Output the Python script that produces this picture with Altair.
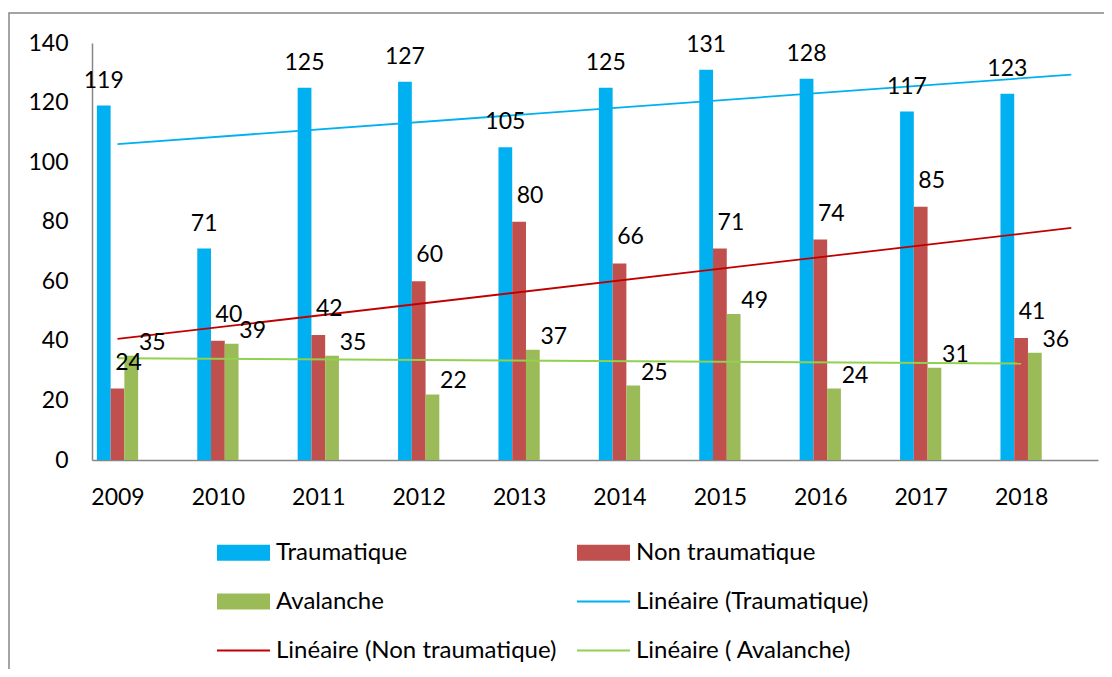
import altair as alt
import pandas as pd

years = [2009, 2010, 2011, 2012, 2013, 2014, 2015, 2016, 2017, 2018]
traumatique = [119, 71, 125, 127, 105, 125, 131, 128, 117, 123]
non_traumatique = [24, 40, 42, 60, 80, 66, 71, 74, 85, 41]
avalanche = [35, 39, 35, 22, 37, 25, 49, 24, 31, 36]

series_names = ["Traumatique", "Non traumatique", " Avalanche"]
trend_names = ["Linéaire (Traumatique)", "Linéaire (Non traumatique)", "Linéaire ( Avalanche)"]
bar_colors = ["#00B0F0", "#C0504D", "#9BBB59"]
trend_colors = ["#00B0F0", "#C00000", "#92D050"]
y_ticks = [0, 20, 40, 60, 80, 100, 120, 140]

rows = []
for i, (name, vals) in enumerate(zip(series_names, [traumatique, non_traumatique, avalanche])):
    for yr, v in zip(years, vals):
        rows.append({"year": yr, "value": v, "series": name, "idx": i})
df = pd.DataFrame(rows)

FONT = "Lato"
W = 0.137  # bar width in years

color_scale = alt.Scale(domain=series_names + trend_names, range=bar_colors + trend_colors)
legend = alt.Legend(
    title=None,
    orient="none",
    legendX=125,
    legendY=483,
    direction="horizontal",
    columns=2,
    columnPadding=20,
    rowPadding=10,
    padding=0,
    symbolSize=2809,
    symbolStrokeWidth=0,
    symbolType={"expr": "indexof(['Traumatique','Non traumatique',' Avalanche'], datum.value) >= 0 ? 'M-1,-0.3H1V0.3H-1Z' : 'M-1,-0.036H1V0.036H-1Z'"},
    labelExpr="replace(datum.label, regexp('^ '), '\u00a0')",
    labelFont=FONT,
    labelFontSize=24,
    labelColor="#000000",
    labelOffset=6,
    labelLimit=0,
    gridAlign="each",
)

x_scale = alt.Scale(domain=[2008.746, 2018.766], nice=False, zero=False)
y_scale = alt.Scale(domain=[0, 140], nice=False)

x_axis = alt.Axis(values=years, format="d", title=None, grid=False, ticks=False,
                  labelFont=FONT, labelFontSize=23, labelColor="#000000", labelPadding=26,
                  domainColor="#868686", domainWidth=1.5)
y_axis = alt.Axis(values=y_ticks, title=None, grid=False, ticks=False,
                  labelFont=FONT, labelFontSize=23, labelColor="#000000", labelPadding=24,
                  domainColor="#868686", domainWidth=1.5)

base = alt.Chart(df)

frame = alt.Chart(pd.DataFrame({"a": [0]})).mark_rect(
    fill=None, stroke="#868686", strokeWidth=1.5
).encode(x=alt.value(-83), x2=alt.value(1200), y=alt.value(-30), y2=alt.value(800))

bars = base.transform_calculate(
    x0=f"datum.year + (datum.idx - 1.5) * {W}",
    x1=f"datum.year + (datum.idx - 0.5) * {W}",
).mark_bar().encode(
    x=alt.X("x0:Q", scale=x_scale, axis=x_axis),
    x2="x1:Q",
    y=alt.Y("value:Q", scale=y_scale, axis=y_axis),
    y2=alt.datum(0),
    color=alt.Color("series:N", scale=color_scale, legend=legend),
)

trend_main = base.transform_filter(
    alt.FieldOneOfPredicate(field="series", oneOf=series_names[:2])
).transform_regression(
    "year", "value", groupby=["series"], extent=[2009, 2018.5]
).transform_calculate(
    trend="'Linéaire (' + datum.series + ')'"
).mark_line(strokeWidth=1.8).encode(
    x=alt.X("year:Q", scale=x_scale),
    y=alt.Y("value:Q", scale=y_scale),
    color=alt.Color("trend:N", scale=color_scale, legend=legend),
    detail="series:N",
)

trend_av = base.transform_filter(
    alt.FieldEqualPredicate(field="series", equal=series_names[2])
).transform_regression(
    "year", "value", groupby=["series"], extent=[2009, 2018]
).transform_calculate(
    trend="'Linéaire (' + datum.series + ')'"
).mark_line(strokeWidth=2).encode(
    x=alt.X("year:Q", scale=x_scale),
    y=alt.Y("value:Q", scale=y_scale),
    color=alt.Color("trend:N", scale=color_scale, legend=legend),
    detail="series:N",
)

label_offsets = {0: (0, -25), 1: (11, -26), 2: (21, -13)}
texts = []
for i, name in enumerate(series_names):
    dx, dy = label_offsets[i]
    t = base.transform_filter(
        alt.FieldEqualPredicate(field="series", equal=name)
    ).transform_calculate(
        xc=f"datum.year + (datum.idx - 1) * {W}"
    ).mark_text(font=FONT, fontSize=23, color="#000000", dx=dx, dy=dy,
                baseline="middle", align="center").encode(
        x=alt.X("xc:Q", scale=x_scale),
        y=alt.Y("value:Q", scale=y_scale),
        text=alt.Text("value:Q"),
    )
    texts.append(t)

chart = alt.layer(frame, bars, trend_main, trend_av, *texts).properties(
    width=1006,
    height=417,
    padding={"left": 84, "top": 35, "right": 6, "bottom": 209},
    autosize=alt.AutoSizeParams(type="none"),
    background="#ffffff",
).configure_view(stroke=None)

chart.save("out.html", embed_options={"renderer": "svg", "actions": False})
